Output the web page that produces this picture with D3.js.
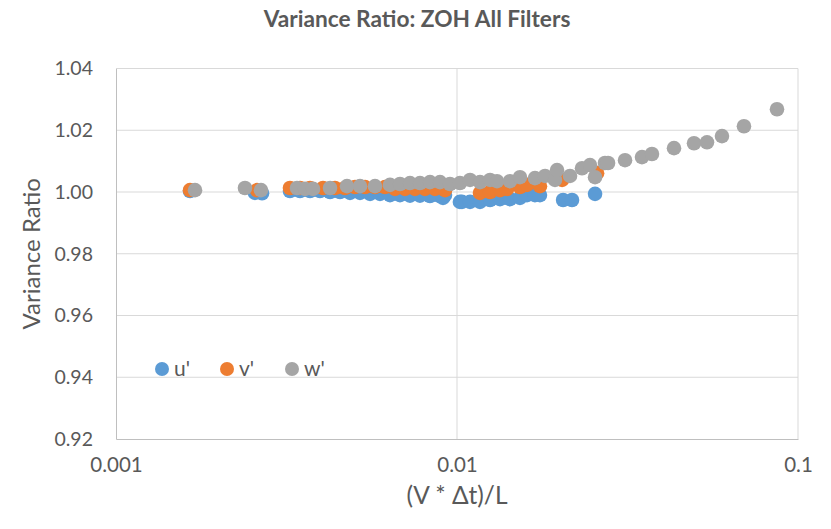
<!DOCTYPE html>
<html><head><meta charset="utf-8">
<script src="https://cdn.jsdelivr.net/npm/d3@7"></script>
<style>body{margin:0;background:#fff}svg{display:block}text{font-family:Lato,"Open Sans",sans-serif;fill:#595959}</style>
</head><body><svg id="c" width="831" height="529"></svg>
<script>
const seriesNames = ["u'", "v'", "w'"];
const seriesColors = ["#5B9BD5", "#ED7D31", "#A5A5A5"];
const xTicks = [0.001, 0.01, 0.1];
const xTickLabels = ["0.001", "0.01", "0.1"];
const yTicks = [0.92, 0.94, 0.96, 0.98, 1.00, 1.02, 1.04];

const uX = [0.001648,0.002556,0.002681,0.003237,0.003464,0.003706,0.003965,0.004243,0.004538,0.004856,0.005195,0.005559,0.005946,0.006361,0.006805,0.00728,0.007788,0.008332,0.008915,0.009222,0.009097,0.01020,0.01034,0.01092,0.01168,0.01250,0.01337,0.01430,0.01530,0.01604,0.01693,0.01751,0.02047,0.02174,0.02540];
const uY = [1.0003,0.9997,0.9996,1.0003,1.0003,1.0003,1.0003,1.0000,1.0000,0.9997,0.9997,0.9994,0.9994,0.9990,0.9990,0.9988,0.9988,0.9987,0.9987,0.9990,0.9981,0.9968,0.9968,0.9968,0.9968,0.9974,0.9977,0.9977,0.9981,0.9990,0.9990,0.9990,0.9974,0.9974,0.9994];

const vX = [0.001648,0.002591,0.003237,0.003464,0.003706,0.004046,0.004387,0.004694,0.005023,0.005374,0.005748,0.00615,0.006579,0.007039,0.00753,0.008056,0.008618,0.009222,0.01168,0.0125,0.01337,0.01402,0.0153,0.01604,0.01751,0.02033,0.02575];
const vY = [1.0006,1.0006,1.0013,1.0013,1.0013,1.0013,1.0013,1.0013,1.0016,1.0016,1.0016,1.0016,1.0010,1.0010,1.0010,1.0010,1.0010,1.0006,0.9997,1.0000,1.0006,1.0010,1.0016,1.0023,1.0019,1.0039,1.0061];

const wX = [0.001705,0.002389,0.002662,0.003395,0.003583,0.003782,0.004243,0.004758,0.005195,0.005748,0.006361,0.006805,0.00728,0.007788,0.008332,0.008915,0.009539,0.01020,0.01092,0.01168,0.0125,0.0131,0.0143,0.0153,0.01693,0.01812,0.01938,0.01965,0.02145,0.02326,0.02455,0.0254,0.02716,0.02773,0.0311,0.03487,0.0373,0.04329,0.04955,0.05409,0.05985,0.06943,0.08678];
const wY = [1.0006,1.0013,1.0006,1.0013,1.0010,1.0010,1.0013,1.0019,1.0019,1.0019,1.0023,1.0026,1.0029,1.0029,1.0032,1.0032,1.0026,1.0029,1.0039,1.0032,1.0039,1.0035,1.0035,1.0048,1.0045,1.0052,1.0039,1.0071,1.0052,1.0077,1.0087,1.0048,1.0094,1.0094,1.0103,1.0113,1.0123,1.0142,1.0158,1.0161,1.0181,1.0213,1.0268];

const svg = d3.select("#c");
const L = 116, R = 798, T = 68.5, B = 439;
const x = d3.scaleLog().domain([0.001, 0.1]).range([L, R]);
const y = d3.scaleLinear().domain([0.92, 1.04]).range([B, T]);

// gridlines
svg.append("g").selectAll("line").data(yTicks.slice(1)).join("line")
  .attr("x1", L).attr("x2", R).attr("y1", d => y(d)).attr("y2", d => y(d))
  .attr("stroke", "#D9D9D9").attr("stroke-width", 1);
svg.append("g").selectAll("line").data(xTicks.slice(1)).join("line")
  .attr("x1", d => x(d)).attr("x2", d => x(d)).attr("y1", T).attr("y2", B)
  .attr("stroke", "#D9D9D9").attr("stroke-width", 1);

// axes
const yAxis = d3.axisLeft(y).tickValues(yTicks).tickFormat(d3.format(".2f")).tickSize(0).tickPadding(23);
const gy = svg.append("g").attr("transform", `translate(${L},0)`).call(yAxis);
gy.select(".domain").attr("stroke", "#BFBFBF");
gy.selectAll("text").style("font-size", "19.5px").style("font-family", "Lato").attr("fill", "#595959");

const xAxis = d3.axisBottom(x).tickValues(xTicks).tickFormat((d, i) => xTickLabels[i]).tickSize(0).tickPadding(18);
const gx = svg.append("g").attr("transform", `translate(0,${B})`).call(xAxis);
gx.select(".domain").attr("stroke", "#BFBFBF");
gx.selectAll("text").style("font-size", "20.5px").style("font-family", "Lato").attr("fill", "#595959");

// points
const series = [[uX, uY], [vX, vY], [wX, wY]];
series.forEach((s, k) => {
  const pts = s[0].map((xv, i) => [xv, s[1][i]]);
  svg.append("g").selectAll("circle").data(pts).join("circle")
    .attr("cx", d => x(d[0])).attr("cy", d => y(d[1])).attr("r", 7.3)
    .attr("fill", seriesColors[k]);
});

// title
svg.append("text").attr("x", 417).attr("y", 27).attr("text-anchor", "middle")
  .style("font-size", "22.7px").style("font-weight", "bold").text("Variance Ratio: ZOH All Filters");
// axis titles
svg.append("text").attr("x", 457).attr("y", 504).attr("text-anchor", "middle")
  .style("font-size", "24.5px").text("(V * Δt)/L");
svg.append("text").attr("transform", `translate(40,${(T + B) / 2}) rotate(-90)`).attr("text-anchor", "middle")
  .style("font-size", "24px").text("Variance Ratio");

// legend
const lx = [162, 227, 292];
seriesNames.forEach((n, i) => {
  svg.append("circle").attr("cx", lx[i]).attr("cy", 369).attr("r", 7).attr("fill", seriesColors[i]);
  svg.append("text").attr("x", lx[i] + 12).attr("y", 376).style("font-size", "21px").text(n);
});
</script></body></html>
